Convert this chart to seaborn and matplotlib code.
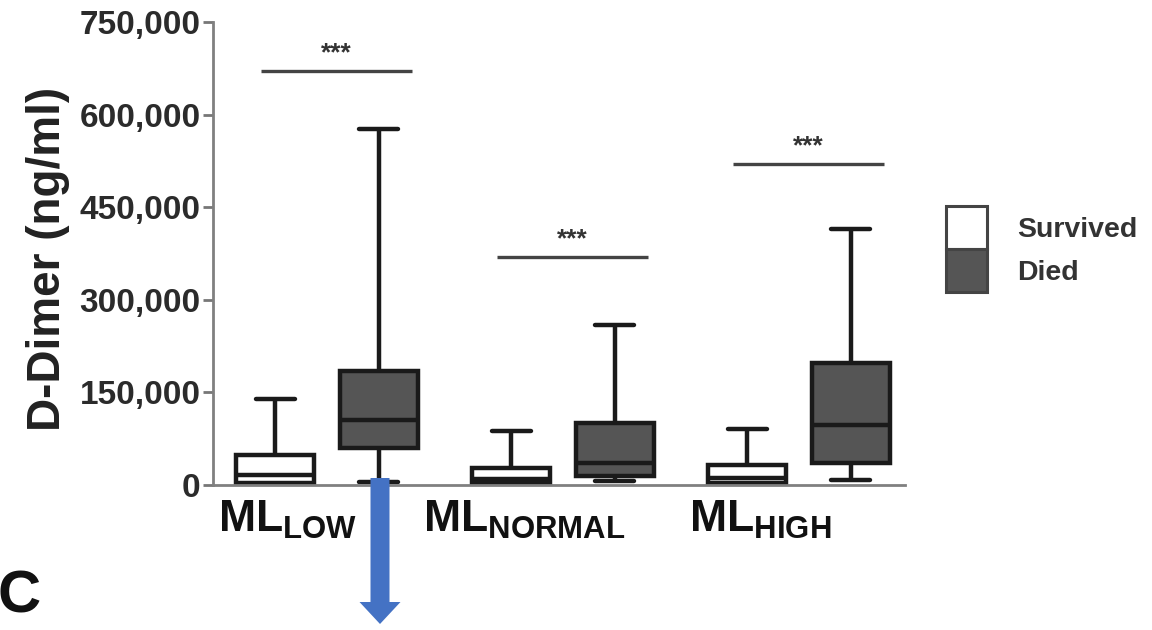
import numpy as np
import pandas as pd
import matplotlib
matplotlib.use("Agg")
import matplotlib.pyplot as plt
import matplotlib.transforms as mtransforms
from matplotlib.patches import Patch, FancyArrow
from matplotlib.ticker import FuncFormatter
import seaborn as sns

# Five-number summaries (min, Q1, median, Q3, max) of D-dimer, ng/ml
groups = ["LOW", "NORMAL", "HIGH"]
outcomes = ["Survived", "Died"]
survived_stats = {
    "LOW": [1000, 3000, 16000, 48000, 139000],
    "NORMAL": [1000, 4000, 10000, 28000, 87000],
    "HIGH": [1000, 4000, 11000, 32000, 90000],
}
died_stats = {
    "LOW": [5000, 60000, 105000, 184000, 577000],
    "NORMAL": [6000, 15000, 36000, 101000, 259000],
    "HIGH": [8000, 36000, 97000, 198000, 414000],
}
sig_heights = [671000, 369000, 520000]
sig_text = "***"
y_ticks = [0, 150000, 300000, 450000, 600000, 750000]

# Long-form table: five points per box reproduce the summary exactly
rows = []
for g in groups:
    for o, stats in (("Survived", survived_stats), ("Died", died_stats)):
        for v in stats[g]:
            rows.append({"group": g, "outcome": o, "value": v})
df = pd.DataFrame(rows)

sns.set_style("white")
plt.rcParams["font.family"] = ["Liberation Sans", "DejaVu Sans"]
plt.rcParams["mathtext.fontset"] = "custom"
plt.rcParams["mathtext.bf"] = "Liberation Sans:bold"
plt.rcParams["mathtext.rm"] = "Liberation Sans"

W, H = 1152, 630
fig = plt.figure(figsize=(W / 100, H / 100), dpi=100)
ax = fig.add_axes([213 / W, 1 - 485 / H, (905 - 213) / W, (485 - 22) / H])

palette = {"Survived": "#ffffff", "Died": "#555555"}
sns.boxplot(
    data=df, x="group", y="value", hue="outcome", order=groups,
    hue_order=outcomes, palette=palette, whis=(0, 100), fliersize=0,
    width=0.88, gap=0.25, linecolor="#1a1a1a", linewidth=3.2,
    legend=False, ax=ax,
)

ax.set_xlim(-0.483, 2.449)
ax.set_ylim(0, 750000)
ax.set_yticks(y_ticks)
ax.yaxis.set_major_formatter(FuncFormatter(lambda v, p: f"{int(v):,}"))
for lab in ax.get_yticklabels():
    lab.set_fontweight("bold")
ax.tick_params(axis="y", labelsize=24, labelcolor="#2b2b2b", length=7,
               width=2, color="#777777", pad=2, left=True)
ax.tick_params(axis="x", length=0, pad=10)

ax.set_xticks(range(len(groups)))
ax.set_xticklabels([rf"$\mathbf{{ML}}_{{\mathbf{{{g}}}}}$" for g in groups],
                   fontsize=32, color="#111111")
shift = mtransforms.ScaledTranslation(-39 / 100, 0, fig.dpi_scale_trans)
for lab in ax.get_xticklabels():
    lab.set_transform(lab.get_transform() + shift)

ax.set_xlabel("")
ax.set_ylabel("D-Dimer (ng/ml)", fontsize=33, fontweight="bold", color="#222222")
ax.yaxis.set_label_coords(-0.206, 0.488)

for side in ("top", "right"):
    ax.spines[side].set_visible(False)
for side in ("left", "bottom"):
    ax.spines[side].set_color("#808080")
    ax.spines[side].set_linewidth(2.0)

# Significance bars with stars
for i, h in enumerate(sig_heights):
    x0, x1 = i - 0.28, i + 0.36
    ax.plot([x0, x1], [h, h], color="#444444", lw=2.4, solid_capstyle="butt",
            clip_on=False)
    ax.text((x0 + x1) / 2, h + 9000, sig_text, ha="center", va="bottom",
            fontsize=19, fontweight="bold", color="#333333")

# Legend
handles = [Patch(facecolor=palette[o], edgecolor="#444444", linewidth=2.2, label=o)
           for o in outcomes]
leg = fig.legend(handles=handles, loc="upper left",
                 bbox_to_anchor=(946 / W, 1 - 206 / H),
                 bbox_transform=fig.transFigure,
                 frameon=False, prop={"size": 20.5, "weight": "bold"},
                 handlelength=1.44, handleheight=1.95,
                 labelspacing=0, handletextpad=1.05, borderpad=0,
                 borderaxespad=0, labelcolor="#333333")

# Panel letter and arrow in pixel space
ov = fig.add_axes([0, 0, 1, 1], zorder=10)
ov.set_xlim(0, W)
ov.set_ylim(H, 0)
ov.axis("off")
ov.patch.set_alpha(0)
ov.text(-2, 597, "C", ha="left", va="center", fontsize=43,
        fontweight="bold", color="#111111")
ov.add_patch(FancyArrow(380, 478, 0, 146, width=19, head_width=41,
                        head_length=22, length_includes_head=True,
                        color="#4472c4", lw=0))

fig.savefig("out.png", dpi=100, facecolor="white")
